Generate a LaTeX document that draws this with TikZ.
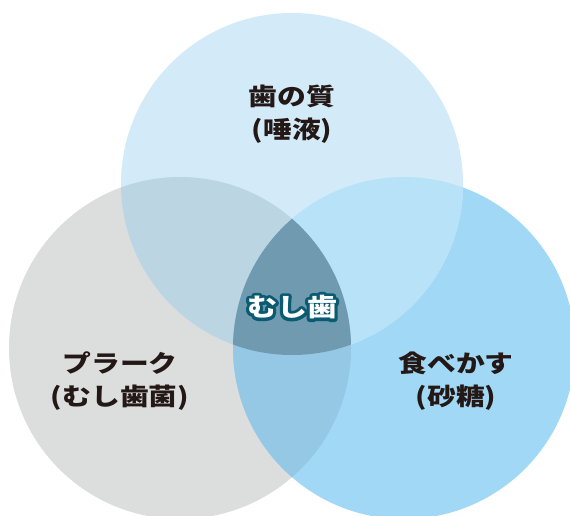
\documentclass[tikz,border=0pt]{standalone}
\usepackage{fontspec}
\newfontfamily\jp{Noto Sans CJK JP}[FakeStretch=1.2]
\newfontfamily\jpo{Noto Sans CJK JP}[FakeStretch=1.2,FakeBold=25]
\definecolor{ctop}{HTML}{D3EBF8}
\definecolor{cleft}{HTML}{DCDDDD}
\definecolor{cright}{HTML}{A0D8F5}
\definecolor{ctl}{HTML}{BCD5E3}
\definecolor{ctr}{HTML}{B8E2F8}
\definecolor{clr}{HTML}{95C8E5}
\definecolor{call}{HTML}{6F9AAF}
\definecolor{txt}{HTML}{231815}
\definecolor{outl}{HTML}{0A5A72}
\begin{document}
\begin{tikzpicture}[x=1pt,y=-1pt,
  lbl/.style={font=\jp\bfseries\fontsize{24}{33}\selectfont, text=txt, align=center, inner sep=0pt},
  centre/.style={font=\jp\bfseries\fontsize{25}{30}\selectfont, inner sep=0pt},
  centreo/.style={font=\jpo\bfseries\fontsize{25}{30}\selectfont, inner sep=0pt, line join=round, miter limit=1}]
\useasboundingbox (0,0) rectangle (570,516);
\clip (0,0) rectangle (570,516);
\fill[white] (0,0) rectangle (570,516);
\def\Ctop{(292,184) circle[radius=171]}
\def\Cleft{(180,348) circle[radius=171]}
\def\Cright{(404,348) circle[radius=171]}
\fill[cleft] \Cleft;
\fill[cright] \Cright;
\fill[ctop] \Ctop;
\begin{scope}\clip \Ctop; \fill[ctl] \Cleft; \end{scope}
\begin{scope}\clip \Ctop; \fill[ctr] \Cright; \end{scope}
\begin{scope}\clip \Cleft; \fill[clr] \Cright; \end{scope}
\begin{scope}\clip \Ctop; \clip \Cleft; \fill[call] \Cright; \end{scope}
\node[lbl] (enamel) at (292,114) {歯の質\\(唾液)};
\node[lbl] (plaque) at (120,381.5) {プラーク\\(むし歯菌)};
\node[lbl] (food) at (456,381.5) {食べかす\\(砂糖)};
\begin{scope}[line join=round, miter limit=1]
\node[centreo, text=outl] (cariesoutline) at (292,307) {\special{pdf:code 1 j 1 M}むし歯};
\end{scope}
\node[centre, text=white] (caries) at (292,307) {むし歯};
\end{tikzpicture}
\end{document}
